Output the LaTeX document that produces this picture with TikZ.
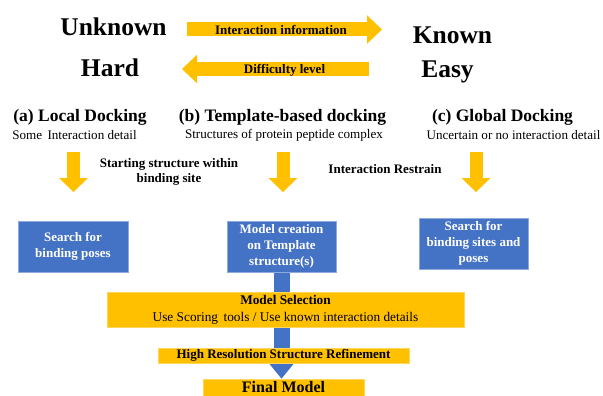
\documentclass[tikz,border=0pt]{standalone}
\usepackage{fontspec}
\setmainfont{Liberation Serif}
\usetikzlibrary{arrows.meta,backgrounds,positioning}

\definecolor{gold}{HTML}{FFC000}
\definecolor{goldedge}{HTML}{FFD55A}
\definecolor{boxblue}{HTML}{4472C4}
\definecolor{boxedge}{HTML}{8FAADC}

\tikzset{
  bigword/.style={font=\fontsize{25.5}{28}\selectfont\bfseries},
  title/.style={font=\fontsize{17.5}{20}\selectfont\bfseries},
  subtitle/.style={font=\fontsize{13.1}{15}\selectfont},
  hint/.style={font=\fontsize{13}{15}\selectfont\bfseries, align=center},
  bluebox/.style={fill=boxblue, draw=boxedge, line width=0.8pt, text=white,
    font=\fontsize{13}{16}\selectfont\bfseries, align=center, inner sep=0pt},
  goldbox/.style={fill=gold, draw=goldedge, line width=0.6pt, align=center, inner sep=0pt},
  goldarrow/.style={draw=gold, line width=13pt, -{Triangle[width=29pt,length=14pt,line width=0pt]}},
  sidearrow/.style={draw=gold, line width=14pt, -{Triangle[width=28.5pt,length=15pt,line width=0pt]}},
}

\begin{document}
\begin{tikzpicture}[x=1pt,y=-1pt]
  \useasboundingbox (0,0) rectangle (603,396);

  % scale of knowledge and difficulty
  \node[bigword] (unknown) at (113.5,27)  {Unknown};
  \node[bigword] (known)   at (452.5,35)  {Known};
  \node[bigword] (hard)    at (110,68)    {Hard};
  \node[bigword] (easy)    at (447.5,72)  {Easy};

  \coordinate (info start) at (187,29.5);
  \coordinate (info end)   at (382,29.5);
  \coordinate (diff start) at (369,69);
  \coordinate (diff end)   at (182,69);
  \draw[sidearrow] (info start) -- (info end);
  \draw[sidearrow] (diff start) -- (diff end);
  \node[hint] (info) at (281,30)   {Interaction information};
  \node[hint] (diff) at (284.5,70) {Difficulty level};

  % the three docking types
  \node[title]    (local)    at (80,117)    {(a) Local Docking};
  \node[title]    (template) at (282.5,117) {(b) Template-based docking};
  \node[title]    (global)   at (502.5,117) {(c) Global Docking};
  \node[subtitle] (local detail)    at (74.5,135)  {Some\, Interaction detail};
  \node[subtitle] (template detail) at (284,135)   {Structures of protein peptide complex};
  \node[subtitle] (global detail)   at (513.5,135) {Uncertain or no interaction detail};

  \foreach \name/\x in {a/73.5, b/283, c/476} {
    \coordinate (\name top) at (\x,152);
    \coordinate (\name tip) at (\x,192);
    \draw[goldarrow] (\name top) -- (\name tip);
  }
  \node[hint] (starting)  at (169,172) {Starting structure within\\binding site};
  \node[hint] (restrain)  at (385,169) {Interaction Restrain};

  % search steps
  \node[bluebox, minimum width=110pt, minimum height=51pt] (poses)    at (73,246.5)    {Search for\\binding poses};
  \node[bluebox, minimum width=109pt, minimum height=51pt] (creation) at (281.5,246.5) {Model creation\\on Template\\structure(s)};
  \node[bluebox, minimum width=109pt, minimum height=51pt] (sites)    at (473.5,243.5) {Search for\\binding sites and\\poses};

  % selection and refinement
  \node[goldbox, minimum width=357pt, minimum height=35pt, font=\fontsize{13.3}{16}\selectfont]
    (selection) at (285.5,309.5)
    {\textbf{Model Selection}\\[1pt]
     Use Scoring\, tools / Use known interaction details};
  \node[goldbox, minimum width=251pt, minimum height=15pt, font=\fontsize{13}{15}\selectfont\bfseries]
    (refinement) at (283.5,355.5) {High Resolution Structure Refinement};
  \node[goldbox, minimum width=161pt, minimum height=17pt, font=\fontsize{16}{18}\selectfont\bfseries]
    (final) at (283.5,387.5) {Final Model};

  \begin{scope}[on background layer]
    \draw[boxblue, line width=16pt, -{Triangle[width=26pt,length=16pt,line width=0pt]}]
      (creation.south) -- (creation.south |- final.north);
  \end{scope}
\end{tikzpicture}
\end{document}
